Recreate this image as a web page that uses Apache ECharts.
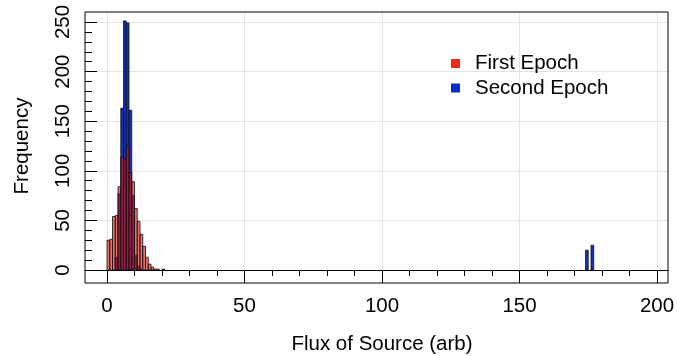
<!DOCTYPE html>
<html>
<head>
<meta charset="utf-8">
<script src="https://cdn.jsdelivr.net/npm/echarts@6/dist/echarts.min.js"></script>
<style>
  html, body { margin: 0; padding: 0; background: #fff; }
  #chart { width: 677px; height: 356px; }
</style>
</head>
<body>
<div id="chart"></div>
<script>
// Histogram bins (left edge, count); every bin is one flux unit wide
const binWidth = 1;
const firstEpochBins   = [0, 1, 2, 3, 4, 5, 6, 7, 8, 9, 10, 11, 12, 13, 14, 15, 16, 17, 18, 20];
const firstEpochCounts = [30, 31, 54, 55, 84, 114, 111, 124, 98, 89, 62, 49, 36, 24, 13, 6, 3, 1, 1, 1];
const secondEpochBins   = [3, 4, 5, 6, 7, 8, 9, 10, 11, 12, 174, 176];
const secondEpochCounts = [13, 77, 163, 251, 249, 161, 75, 15, 4, 1, 20, 25];

const seriesNames = ['First Epoch', 'Second Epoch'];
const xTicks = [0, 50, 100, 150, 200];
const yTicks = [0, 50, 100, 150, 200, 250];

const FONT = "'Liberation Sans', Arial, Helvetica, sans-serif";
const firstFill = 'rgba(215, 20, 10, 0.6)';
const secondFill = '#1430b4';

function pairs(edges, counts) {
  return edges.map((e, i) => [e, counts[i]]);
}

function histRenderer(fill) {
  return function (params, api) {
    const x0 = api.value(0);
    const n = api.value(1);
    const top = api.coord([x0, n]);
    const base = api.coord([x0 + binWidth, 0]);
    return {
      type: 'rect',
      shape: { x: top[0], y: top[1], width: base[0] - top[0], height: base[1] - top[1] },
      style: { fill: fill, stroke: '#111', lineWidth: 0.8 }
    };
  };
}

const chart = echarts.init(document.getElementById('chart'), null, { renderer: 'canvas' });

const gridLineStyle = { color: '#e4e4e4', width: 1, type: 'solid' };

chart.setOption({
  animation: false,
  backgroundColor: '#fff',
  textStyle: { fontFamily: FONT },
  grid: [
    // plotting frame
    { left: 85, right: 9, top: 12, bottom: 73, show: true, borderColor: '#000', borderWidth: 1,
      backgroundColor: 'transparent', outerBoundsMode: 'none', containLabel: false, z: 8 },
    // tick range box (0..200 x 0..250)
    { left: 107, right: 20, top: 22, bottom: 86, show: false, outerBoundsMode: 'none', containLabel: false }
  ],
  xAxis: [
    { gridIndex: 0, type: 'value', min: -8, max: 204, z: 8,
      axisLine: { show: true, onZero: true, lineStyle: { color: '#000', width: 1 } },
      axisTick: { show: false }, axisLabel: { show: false }, splitLine: { show: false } },
    { gridIndex: 1, type: 'value', min: xTicks[0], max: xTicks[xTicks.length - 1], interval: 50,
      position: 'bottom', z: 9,
      axisLine: { show: false, onZero: false },
      axisTick: { show: true, length: 13, lineStyle: { color: '#000', width: 1 } },
      minorTick: { show: true, splitNumber: 5, length: 6, lineStyle: { color: '#000', width: 1 } },
      axisLabel: { margin: 26, fontSize: 20.5, color: '#000', fontFamily: FONT },
      splitLine: { show: false },
      name: 'Flux of Source (arb)', nameLocation: 'middle', nameGap: 64, nameMoveOverlap: false,
      nameTextStyle: { fontSize: 20.5, color: '#000', fontFamily: FONT } }
  ],
  yAxis: [
    { gridIndex: 0, type: 'value', min: -13, max: 260, show: false },
    { gridIndex: 1, type: 'value', min: yTicks[0], max: yTicks[yTicks.length - 1], interval: 50,
      position: 'left', offset: 22, z: 9,
      axisLine: { show: false, onZero: false },
      axisTick: { show: true, inside: true, length: 12, lineStyle: { color: '#000', width: 1 } },
      minorTick: { show: true, splitNumber: 5, length: 7, lineStyle: { color: '#000', width: 1 } },
      axisLabel: { rotate: 90, margin: 11, fontSize: 20.5, color: '#000', fontFamily: FONT },
      splitLine: { show: false },
      name: 'Frequency', nameLocation: 'middle', nameGap: 52, nameMoveOverlap: false,
      nameTextStyle: { fontSize: 20.5, color: '#000', fontFamily: FONT } }
  ],
  legend: {
    data: [
      { name: seriesNames[0], itemStyle: { color: '#f02a14', borderWidth: 0 } },
      { name: seriesNames[1], itemStyle: { color: '#0b2ccc', borderWidth: 0 } }
    ],
    orient: 'vertical', left: 451, top: 50.5, padding: 0, z: 10,
    icon: 'rect', itemWidth: 9, itemHeight: 9, itemGap: -1.5,
    textStyle: { fontSize: 20.5, color: '#000', fontFamily: FONT, lineHeight: 21,
      padding: [5, 0, 0, 10] }
  },
  series: [
    { name: 'grid', type: 'line', xAxisIndex: 0, yAxisIndex: 0, data: [], z: 0, silent: true,
      markLine: { z: 0, silent: true, symbol: 'none', label: { show: false }, lineStyle: gridLineStyle,
        animation: false,
        data: xTicks.map(v => ({ xAxis: v })).concat(yTicks.map(v => ({ yAxis: v }))) } },
    { name: seriesNames[1], type: 'custom', xAxisIndex: 0, yAxisIndex: 0, z: 2,
      itemStyle: { color: secondFill },
      renderItem: histRenderer(secondFill), data: pairs(secondEpochBins, secondEpochCounts) },
    { name: seriesNames[0], type: 'custom', xAxisIndex: 0, yAxisIndex: 0, z: 3,
      itemStyle: { color: firstFill },
      renderItem: histRenderer(firstFill), data: pairs(firstEpochBins, firstEpochCounts) }
  ]
});
</script>
</body>
</html>
